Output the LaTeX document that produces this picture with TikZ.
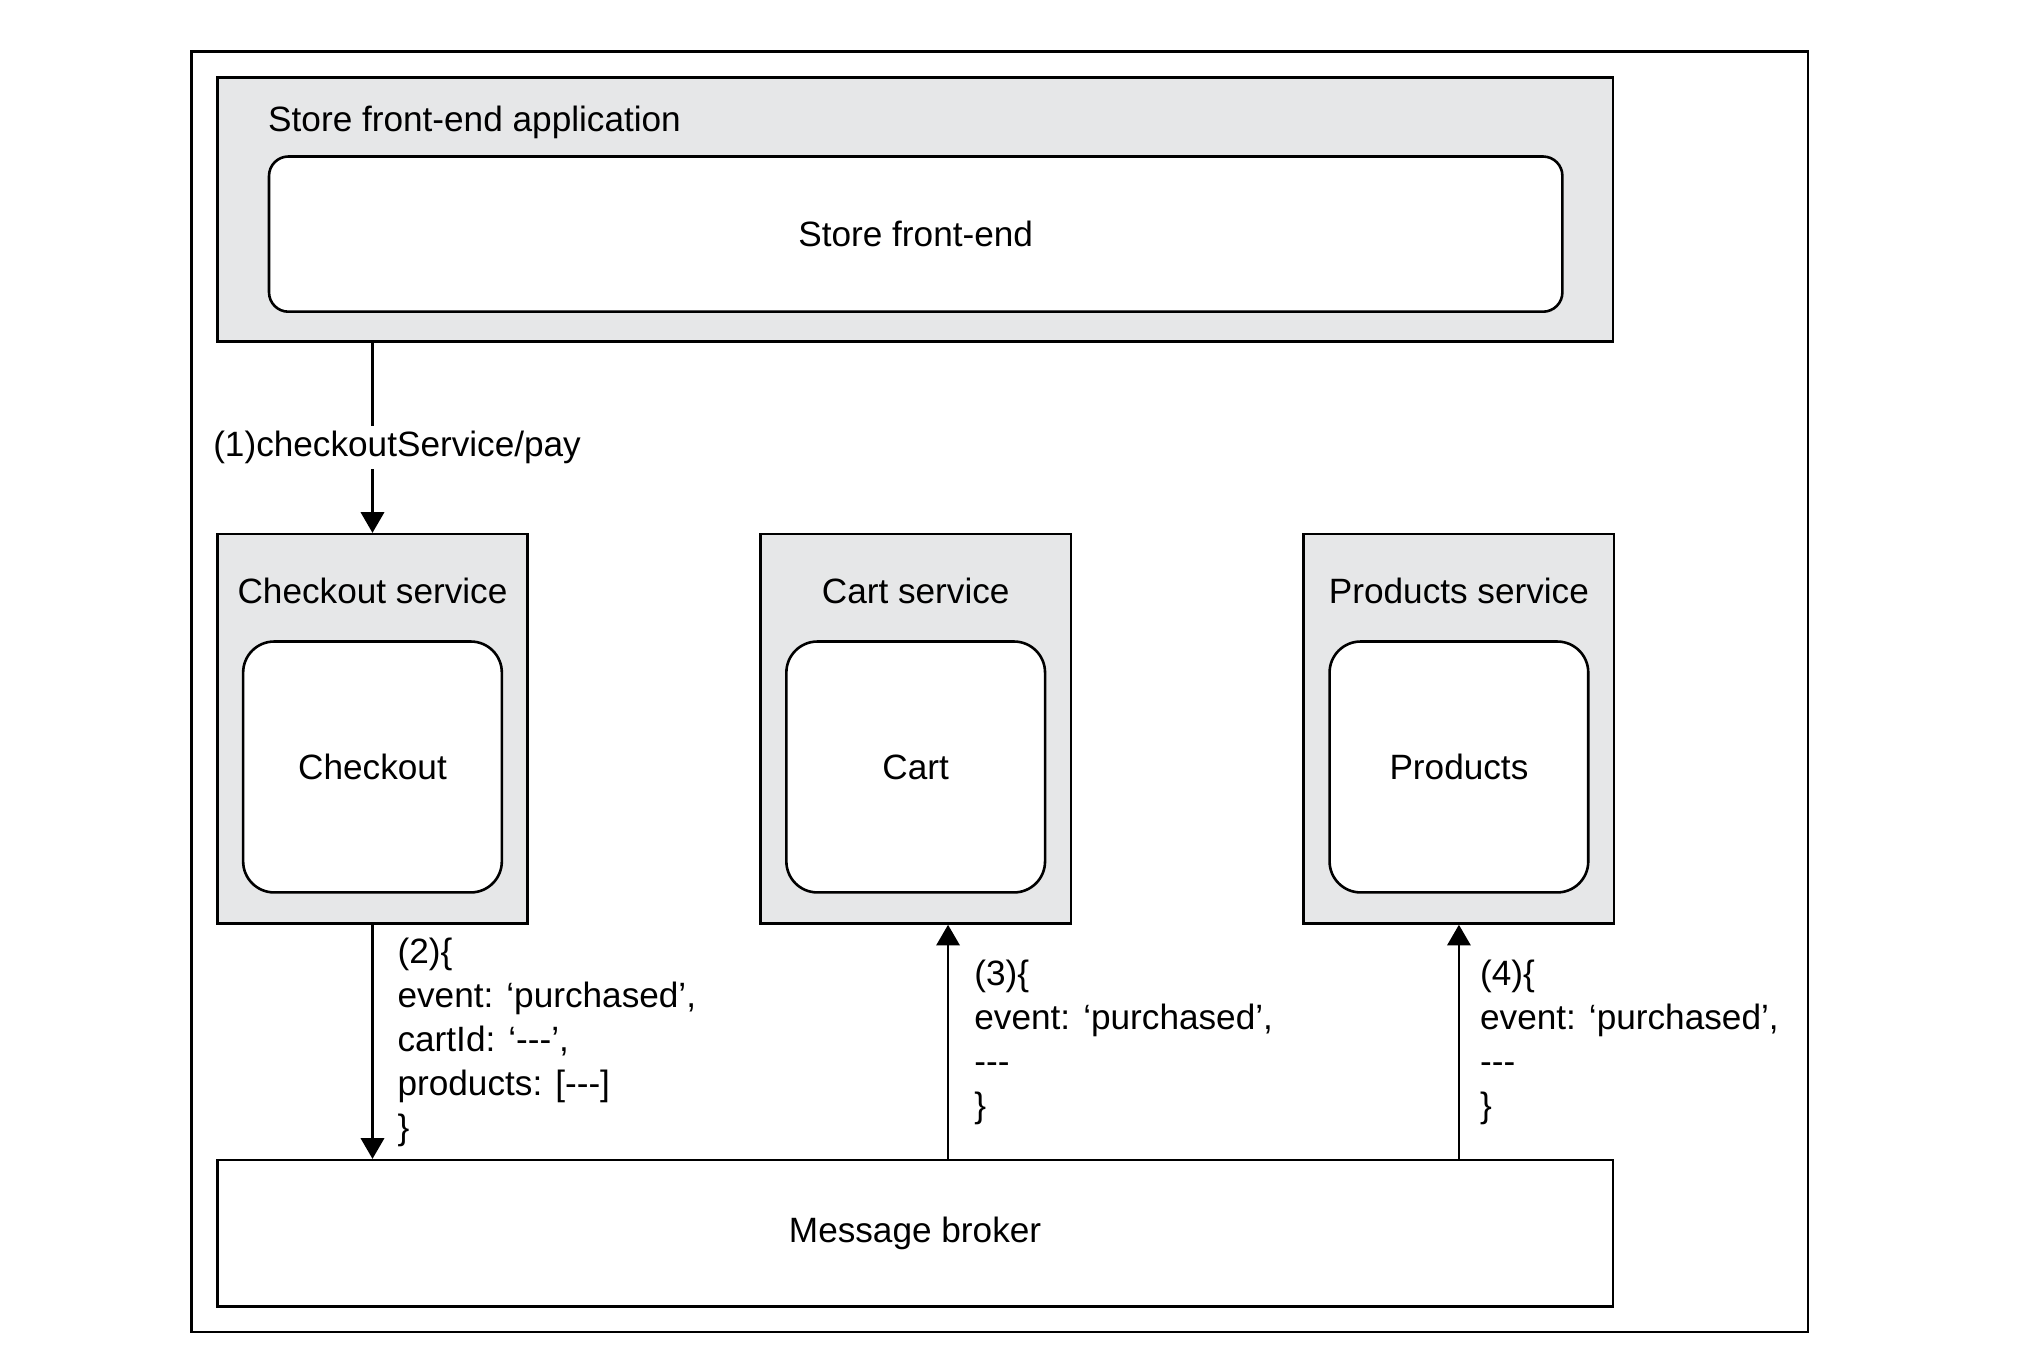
\documentclass[tikz,border=0pt]{standalone}
\usepackage{fontspec}
\setmainfont{Liberation Sans}[Ligatures=TeXOff]
\usetikzlibrary{positioning,arrows.meta}
\definecolor{boxgrey}{RGB}{230,231,232}

\begin{document}
\begin{tikzpicture} [x=0.5pt, y=-0.5pt,
font=\fontsize{13.6}{17}\selectfont,
framebox/.style={rectangle, draw=black, line width=1pt, minimum width=625pt, minimum height=495pt},
greybox/.style={rectangle, draw=black, fill=boxgrey, line width=1pt, inner sep=0pt},
roundbox/.style={rectangle, rounded corners=12pt, draw=black, fill=white, line width=1pt, inner sep=0pt},
svcbox/.style={greybox, minimum width=120pt, minimum height=150.5pt},
innerbox/.style={roundbox, minimum width=100pt, minimum height=97pt},
msgtext/.style={align=left, anchor=north west, inner sep=0pt},
arr/.style={-{Triangle[length=8pt,width=9pt]}, line width=1pt},
]
\useasboundingbox (0,0) rectangle (1568,1054.6);

%Nodes
\node[framebox]    (frame)         at (773,535)     {};
\node[greybox, minimum width=539.5pt, minimum height=102pt] (app) at (707.5,162) {};
\node[anchor=west, inner sep=0pt] (apptitle) at (207,95) {Store front-end application};
\node[roundbox, rounded corners=7.5pt, minimum width=500pt, minimum height=60pt] (front) at (708,181) {Store front-end};

\node[svcbox]      (checkoutsvc)   at (288,563.5)   {};
\node              (checkouttitle) at (288,457)     {Checkout service};
\node[innerbox]    (checkout)      at (288,593)     {Checkout};

\node[svcbox]      (cartsvc)       at (708,563.5)   {};
\node              (carttitle)     at (708,457)     {Cart service};
\node[innerbox]    (cart)          at (708,593)     {Cart};

\node[svcbox]      (productssvc)   at (1128,563.5)  {};
\node              (productstitle) at (1128,457)    {Products service};
\node[innerbox]    (products)      at (1128,593)    {Products};

\node[rectangle, draw=black, line width=1pt, minimum width=539.5pt, minimum height=56.5pt] (broker) at (707.5,953.5) {Message broker};

\coordinate (cartin) at ([xshift=12.5pt]cartsvc.south);

%Lines
\draw[arr] (app.south -| checkoutsvc.north) -- (checkoutsvc.north);
\draw[arr] (checkoutsvc.south) -- (checkoutsvc.south |- broker.north);
\draw[arr] (cartin |- broker.north) -- (cartin);
\draw[arr] (productssvc.south |- broker.north) -- (productssvc.south);

%Labels
\node[fill=white, inner sep=2pt] (paylabel) at (307,346) {(1)checkoutService/pay};
\node[msgtext] (checkoutmsg) at (307,725) {(2)\{\\event: ‘purchased’,\\cartId: ‘---’,\\products: [---]\\\}};
\node[msgtext] (cartmsg)     at (753,742) {(3)\{\\event: ‘purchased’,\\---\\\}};
\node[msgtext] (productsmsg) at (1144,742) {(4)\{\\event: ‘purchased’,\\---\\\}};

\end{tikzpicture}
\end{document}
